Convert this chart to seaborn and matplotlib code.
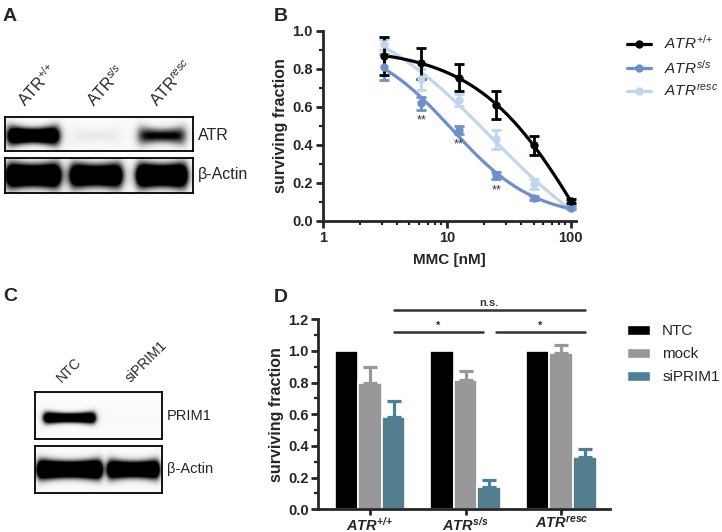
import matplotlib
matplotlib.use("Agg")
import matplotlib.pyplot as plt
import numpy as np
import pandas as pd
import seaborn as sns
from matplotlib.lines import Line2D
from matplotlib.patches import Patch


# B: MMC survival
mmc_dose = [3.125, 6.25, 12.5, 25, 50, 100]
wt_surv = [0.87, 0.83, 0.755, 0.61, 0.40, 0.105]
wt_err = [0.10, 0.08, 0.07, 0.075, 0.05, 0.01]
ss_surv = [0.81, 0.62, 0.48, 0.24, 0.12, 0.07]
ss_err = [0.07, 0.035, 0.02, 0.02, 0.01, 0.008]
resc_surv = [0.93, 0.745, 0.637, 0.43, 0.195, 0.07]
resc_err = [0.03, 0.055, 0.03, 0.05, 0.025, 0.008]
ss_star_dose = [6.25, 12.5, 25]

# D: siRNA survival
genotypes = ["ATR+/+", "ATRs/s", "ATRresc"]
genotype_labels = [r"$\mathbf{ATR^{{+}/{+}}}$", r"$\mathbf{ATR^{s/s}}$", r"$\mathbf{ATR^{resc}}$"]
treatments = ["NTC", "mock", "siPRIM1"]
ntc_val = [1.0, 1.0, 1.0]
ntc_err = [0, 0, 0]
mock_val = [0.80, 0.815, 0.985]
mock_err = [0.10, 0.06, 0.05]
si_val = [0.58, 0.14, 0.33]
si_err = [0.105, 0.045, 0.05]

# A / C blot band strengths (per lane)
atr_lane_labels = [r"ATR$^{{+}/{+}}$", r"ATR$^{s/s}$", r"ATR$^{resc}$"]
atr_band = [1.8, 0.13, 1.0]
atr_actin_band = [2.2, 2.0, 2.2]
prim_lanes = ["NTC", "siPRIM1"]
prim_band = [1.8, 0.02]
prim_actin_band = [2.2, 2.0]

sns.set_style("ticks")
plt.rcParams["font.family"] = ["Liberation Sans", "DejaVu Sans"]
plt.rcParams["mathtext.fontset"] = "custom"
plt.rcParams["mathtext.rm"] = "Liberation Sans"
plt.rcParams["mathtext.it"] = "Liberation Sans:italic"
plt.rcParams["mathtext.bf"] = "Liberation Sans:italic:bold"

fig = plt.figure(figsize=(7.22, 5.32), dpi=100)
W, H = 722.0, 532.0


def fax(x0, y0, x1, y1):
    # pixel box -> figure axes
    return fig.add_axes([x0 / W, 1 - y1 / H, (x1 - x0) / W, (y1 - y0) / H])


def blot(ax, centers, halfw, strength, yc, hh, ends=0.0):
    nx, ny = 400, 90
    xx = np.linspace(0, 1, nx)
    yy = np.linspace(0, 1, ny)
    img = np.full((ny, nx), 0.03)
    for c, w, a in zip(centers, halfw, strength):
        u = (xx - c) / w
        sx = 1 / (1 + np.exp((np.abs(xx - c) - w) / 0.015))
        thick = hh * (1 + ends * np.clip(u, -1, 1) ** 2)
        sy = np.exp(-(((yy[:, None] - yc) / thick[None, :]) ** 2))
        img += a * sy * sx[None, :]
    ax.imshow(np.clip(img, 0, 1), cmap="Greys", vmin=0, vmax=1, aspect="auto",
              interpolation="bilinear")
    ax.set_xticks([])
    ax.set_yticks([])
    for s in ax.spines.values():
        s.set_linewidth(1.3)
        s.set_color("black")


# ---- A ----
a1 = fax(5, 117, 193, 151)
blot(a1, [0.15, 0.485, 0.835], [0.135, 0.13, 0.125], atr_band, 0.55, 0.22, ends=0.5)
a2 = fax(5, 158, 193, 193)
blot(a2, [0.15, 0.485, 0.835], [0.14, 0.135, 0.13], atr_actin_band, 0.5, 0.3, ends=0.3)
fig.text(198 / W, 1 - 135 / H, "ATR", fontsize=11.5, va="center")
fig.text(198 / W, 1 - 175 / H, "β-Actin", fontsize=11.5, va="center")
for lx, lab in zip([28, 97, 160], atr_lane_labels):
    fig.text(lx / W, 1 - 110 / H, lab, fontsize=11.5, rotation=48,
             ha="left", va="bottom", rotation_mode="anchor")
fig.text(3 / W, 1 - 8 / H, "A", fontsize=14, fontweight="bold", va="top")

# ---- C ----
c1 = fax(35, 392, 162, 439)
blot(c1, [0.27, 0.76], [0.2, 0.2], prim_band, 0.55, 0.1, ends=0.4)
c2 = fax(35, 446, 162, 493)
blot(c2, [0.27, 0.77], [0.25, 0.2], prim_actin_band, 0.5, 0.17, ends=0.3)
fig.text(167 / W, 1 - 416 / H, "PRIM1", fontsize=10.5, va="center")
fig.text(167 / W, 1 - 469 / H, "β-Actin", fontsize=10.5, va="center")
for lx, lab in zip([64, 133], prim_lanes):
    fig.text(lx / W, 1 - 385 / H, lab, fontsize=10, rotation=45,
             ha="left", va="bottom", rotation_mode="anchor")
fig.text(3 / W, 1 - 288 / H, "C", fontsize=14, fontweight="bold", va="top")


def style_axis(ax):
    sns.despine(ax=ax)
    for s in ["left", "bottom"]:
        ax.spines[s].set_linewidth(2)
    ax.tick_params(which="major", width=2, length=5, labelsize=10.5, pad=2)
    ax.tick_params(which="minor", width=1.6, length=3)
    for t in ax.get_yticklabels() + ax.get_xticklabels():
        t.set_fontweight("bold")


# ---- B ----
axB = fax(322.7, 31, 576, 221)
fig.text(274 / W, 1 - 8 / H, "B", fontsize=14, fontweight="bold", va="top")


def fit_logistic(x, y):
    lx = np.log10(x)
    y = np.asarray(y)
    best = (np.inf, None)
    for lec in np.linspace(0.3, 2.5, 111):
        for h in np.linspace(0.5, 5, 46):
            s = 1 / (1 + 10 ** ((lx - lec) * h))
            A = np.column_stack([np.ones_like(s), s])
            coef = np.linalg.lstsq(A, y, rcond=None)[0]
            sse = np.sum((A @ coef - y) ** 2)
            if sse < best[0]:
                best = (sse, (lec, h, coef))
    return best[1]


series_b = [
    ("resc", resc_surv, resc_err, "#c0d5ee"),
    ("ss", ss_surv, ss_err, "#6e8fc9"),
    ("wt", wt_surv, wt_err, "black"),
]
xs = np.logspace(np.log10(mmc_dose[0]), np.log10(mmc_dose[-1]), 200)
for name, vals, errs, col in series_b:
    lec, h, coef = fit_logistic(np.array(mmc_dose), vals)
    yfit = coef[0] + coef[1] / (1 + 10 ** ((np.log10(xs) - lec) * h))
    sns.lineplot(x=xs, y=yfit, color=col, linewidth=2.3, ax=axB)
    axB.errorbar(mmc_dose, vals, yerr=errs, fmt="o", color=col, ms=5,
                 elinewidth=2, capsize=3.5, capthick=2, clip_on=False, zorder=3)

for d in ss_star_dose:
    i = mmc_dose.index(d)
    axB.text(d, ss_surv[i] - ss_err[i] - 0.025, "**", ha="center", va="top",
             fontsize=9, color="#333333")

axB.set_xscale("log")
axB.set_xlim(1, 110)
axB.set_ylim(0, 1.0)
axB.set_xticks([1, 10, 100])
axB.set_xticklabels(["1", "10", "100"])
axB.set_yticks(np.arange(0, 1.01, 0.2))
axB.set_yticklabels([f"{v:.1f}" for v in np.arange(0, 1.01, 0.2)])
axB.set_yticks(np.arange(0.1, 1.0, 0.2), minor=True)
axB.set_xlabel("MMC [nM]", fontsize=11, fontweight="bold", labelpad=6)
axB.set_ylabel("surviving fraction", fontsize=11.5, fontweight="bold", labelpad=3)
style_axis(axB)

leg_b = [Line2D([], [], color=c, marker="o", ms=5, lw=2.3) for c in ["black", "#6e8fc9", "#c0d5ee"]]
fig.legend(leg_b, [r"$\mathit{ATR^{{+}/{+}}}$", r"$\mathit{ATR^{s/s}}$", r"$\mathit{ATR^{resc}}$"],
           loc="upper left", bbox_to_anchor=(627 / W, 1 - 34 / H), frameon=False,
           fontsize=11, handlelength=1.6, handletextpad=0.8, labelspacing=0.45,
           borderpad=0, borderaxespad=0)

# ---- D ----
axD = fax(318.3, 319.3, 610, 509.3)
fig.text(274 / W, 1 - 289 / H, "D", fontsize=14, fontweight="bold", va="top")

df = pd.DataFrame({
    "genotype": np.repeat(genotypes, 3),
    "treatment": treatments * 3,
    "value": [v for trio in zip(ntc_val, mock_val, si_val) for v in trio],
})
bar_cols = ["black", "#97979c", "#4b8196"]
sns.barplot(data=df, x="genotype", y="value", hue="treatment", order=genotypes,
            hue_order=treatments, palette=bar_cols, width=0.74, edgecolor="white",
            linewidth=1.2, errorbar=None, legend=False, ax=axD)

for cont, errs, col in zip(axD.containers, [ntc_err, mock_err, si_err], bar_cols):
    for bar, e in zip(cont, errs):
        if e > 0:
            axD.errorbar(bar.get_x() + bar.get_width() / 2, bar.get_height(),
                         yerr=[[0], [e]], color=col, elinewidth=2.3, capsize=5,
                         capthick=2.3, zorder=1)

si_x = [b.get_x() + b.get_width() / 2 for b in axD.containers[2]]
sig_col = "#333333"
axD.plot([si_x[0], si_x[2]], [1.259, 1.259], color=sig_col, lw=1.8, clip_on=False)
axD.text((si_x[0] + si_x[2]) / 2, 1.272, "n.s.", ha="center", va="bottom",
         fontsize=8, fontweight="bold", color=sig_col)
for x0, x1 in [(si_x[0], si_x[1] - 0.06), (si_x[1] + 0.07, si_x[2])]:
    axD.plot([x0, x1], [1.118, 1.118], color=sig_col, lw=1.8, clip_on=False)
    axD.text((x0 + x1) / 2, 1.128, "*", ha="center", va="bottom", fontsize=8,
             fontweight="bold", color=sig_col)

axD.set_xlim(-0.54, 2.51)
axD.set_ylim(0, 1.2)
axD.set_yticks(np.arange(0, 1.21, 0.2))
axD.set_yticklabels([f"{v:.1f}" for v in np.arange(0, 1.21, 0.2)])
axD.set_yticks(np.arange(0.1, 1.2, 0.2), minor=True)
axD.set_xticks(range(3))
axD.set_xticklabels(genotype_labels)
axD.set_xlabel("")
axD.set_ylabel("surviving fraction", fontsize=11.5, fontweight="bold", labelpad=3)
style_axis(axD)
axD.tick_params(axis="x", labelsize=10.5, pad=0.5, length=4)

leg_d = [Patch(facecolor=c, edgecolor="white") for c in bar_cols]
fig.legend(leg_d, treatments, loc="upper left", bbox_to_anchor=(627 / W, 1 - 324 / H),
           frameon=False, fontsize=11, handlelength=1.5, handleheight=0.65,
           handletextpad=0.8, labelspacing=0.6, borderpad=0, borderaxespad=0)

fig.savefig("out.png", dpi=100)
